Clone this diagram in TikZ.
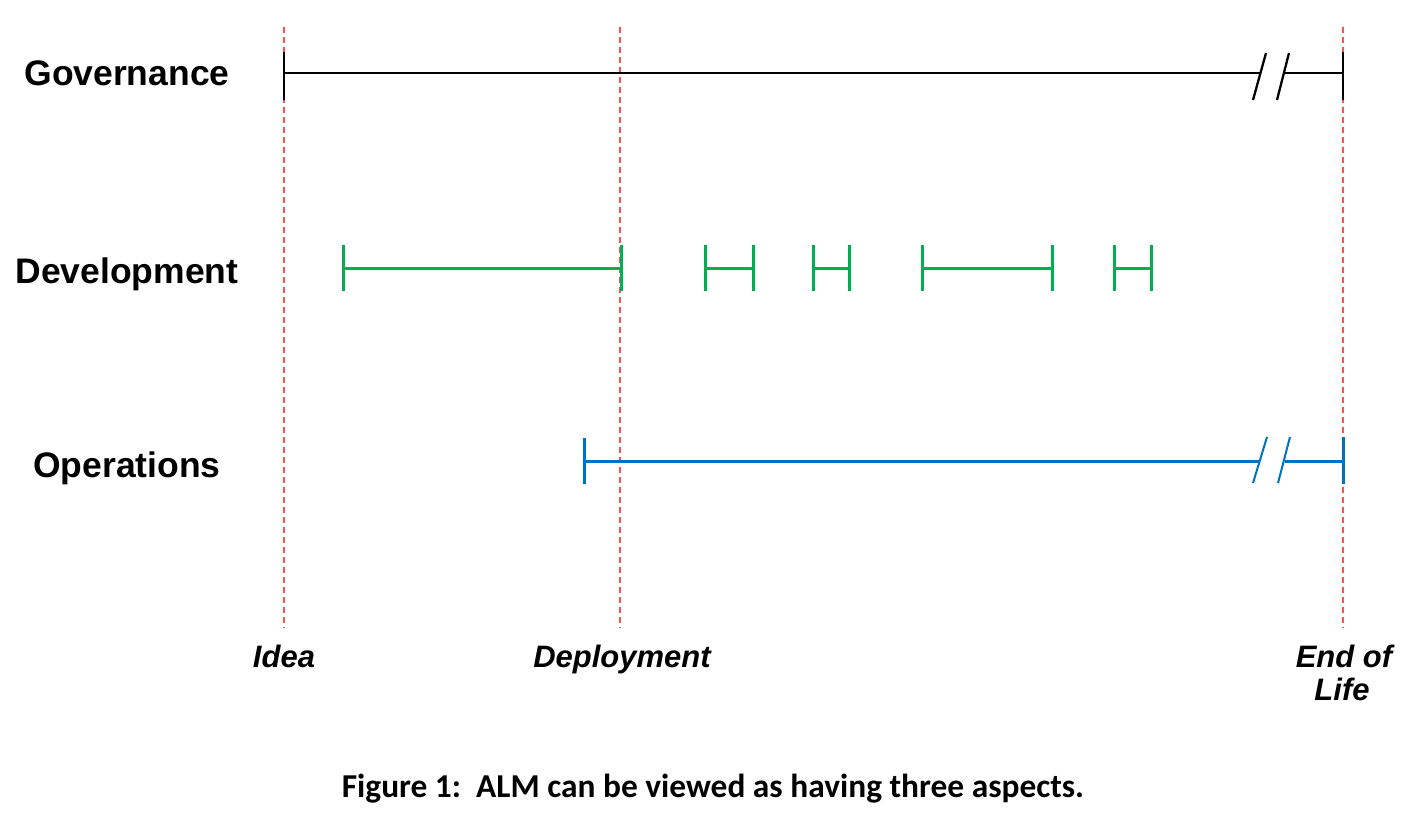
\documentclass[tikz,border=0pt]{standalone}
\usepackage{fontspec}
\setmainfont{Liberation Sans}
\newfontfamily\capfont{Carlito}
\definecolor{devgreen}{RGB}{0,176,80}
\definecolor{opsblue}{RGB}{0,112,192}
\definecolor{guide}{RGB}{255,80,80}
\begin{document}
\begin{tikzpicture}[x=1pt,y=-1pt,
  guideline/.style={draw=guide,line width=2pt,dash pattern=on 6pt off 4pt},
  govline/.style={draw=black,line width=2.3pt},
  devline/.style={draw=devgreen,line width=3pt},
  opsline/.style={draw=opsblue,line width=3pt},
  rowlabel/.style={font=\fontsize{35.5}{40}\selectfont\bfseries,anchor=base,inner sep=0pt},
  milestone/.style={font=\fontsize{31}{34}\selectfont\bfseries\itshape,anchor=base,inner sep=0pt},
  captiontext/.style={font=\capfont\fontsize{33.4}{38}\selectfont\bfseries,anchor=base,inner sep=0pt}]
\useasboundingbox (0,0) rectangle (1414,824);
\fill[white] (0,0) rectangle (1414,824);
% guide lines
\coordinate (ideaT) at (284,27); \coordinate (ideaB) at (284,628);
\coordinate (depT) at (620,27); \coordinate (depB) at (620,628);
\coordinate (eolT) at (1343,27); \coordinate (eolB) at (1343,628);
\draw[guideline] (ideaT) -- (ideaB);
\draw[guideline] (depT) -- (depB);
\draw[guideline] (eolT) -- (eolB);
% labels
\node[rowlabel] (gov) at (127,86) {Governance};
\node[rowlabel] (dev) at (127,283) {Development};
\node[rowlabel] (ops) at (127,477) {Operations};
\node[milestone] (idea) at (284,667) {Idea};
\node[milestone] (depl) at (622,667) {Deployment};
\node[milestone] (eol1) at (1344,667) {End of};
\node[milestone] (eol2) at (1342,700) {Life};
\node[captiontext] (cap) at (713,797) {Figure 1:\ \ ALM can be viewed as having three aspects.};
% governance
\coordinate (g1t) at (284,52); \coordinate (g1b) at (284,100);
\coordinate (g1) at (284,73); \coordinate (g2) at (1260,73);
\coordinate (g3) at (1285,73); \coordinate (g4) at (1343,73);
\coordinate (g4t) at (1343,52); \coordinate (g4b) at (1343,100);
\coordinate (gs1a) at (1253,100); \coordinate (gs1b) at (1266,53);
\coordinate (gs2a) at (1277,100); \coordinate (gs2b) at (1289,53);
\draw[govline] (g1t) -- (g1b);
\draw[govline] (g1) -- (g2);
\draw[govline] (g3) -- (g4);
\draw[govline] (g4t) -- (g4b);
\draw[govline] (gs1a) -- (gs1b);
\draw[govline] (gs2a) -- (gs2b);
% development
\foreach \a/\b/\n in {343/621/1,705/753/2,813/849/3,922/1052/4,1114/1151/5}{
  \coordinate (d\n at) at (\a,245); \coordinate (d\n ab) at (\a,291);
  \coordinate (d\n bt) at (\b,245); \coordinate (d\n bb) at (\b,291);
  \coordinate (d\n a) at (\a,268); \coordinate (d\n b) at (\b,268);
  \draw[devline] (d\n at) -- (d\n ab);
  \draw[devline] (d\n bt) -- (d\n bb);
  \draw[devline] (d\n a) -- (d\n b);
}
% operations
\coordinate (o1t) at (584,438); \coordinate (o1b) at (584,484);
\coordinate (o1) at (584,461); \coordinate (o2) at (1260,461);
\coordinate (o3) at (1285,461); \coordinate (o4) at (1343,461);
\coordinate (o4t) at (1343,437); \coordinate (o4b) at (1343,484);
\coordinate (os1a) at (1253,483); \coordinate (os1b) at (1267,437);
\coordinate (os2a) at (1278,483); \coordinate (os2b) at (1290,437);
\draw[opsline] (o1t) -- (o1b);
\draw[opsline] (o1) -- (o2);
\draw[opsline] (o3) -- (o4);
\draw[opsline] (o4t) -- (o4b);
\draw[opsline,line width=2pt] (os1a) -- (os1b);
\draw[opsline,line width=2pt] (os2a) -- (os2b);
\end{tikzpicture}
\end{document}
